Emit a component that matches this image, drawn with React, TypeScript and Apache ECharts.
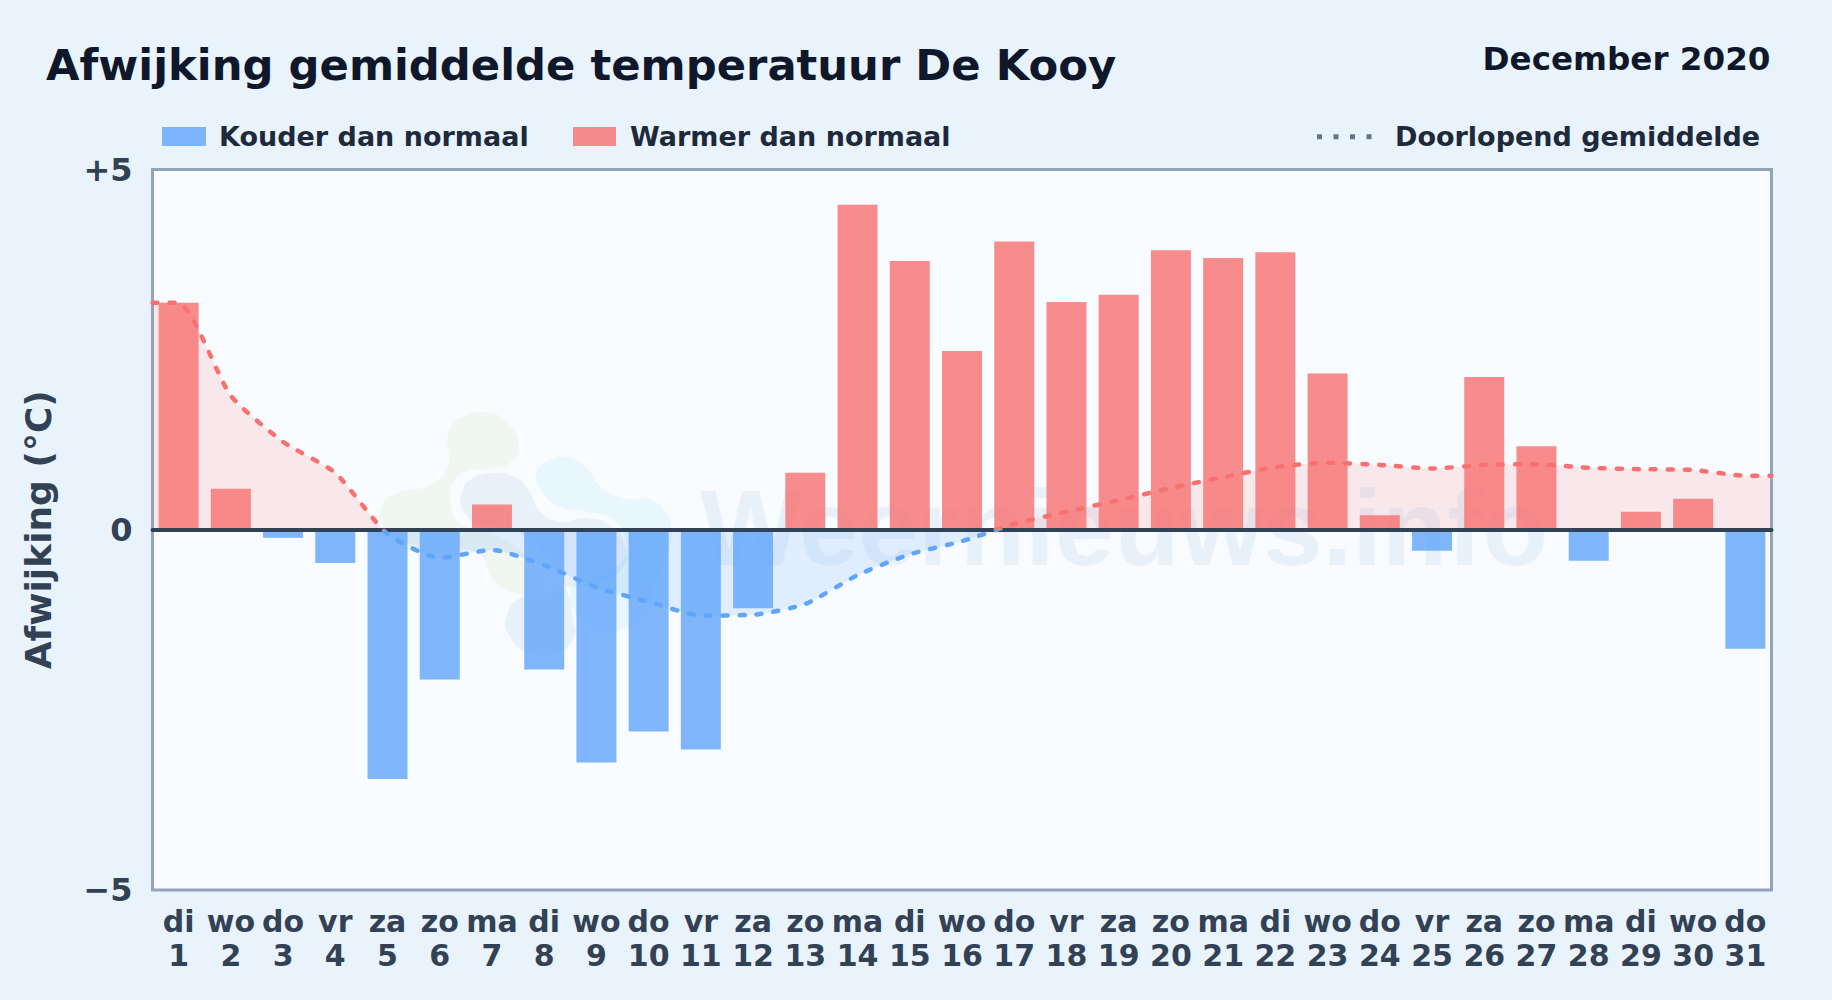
import React, { useEffect, useRef } from "react";
import * as echarts from "echarts";

const weekdays = ["di","wo","do","vr","za","zo","ma","di","wo","do","vr","za","zo","ma","di","wo","do","vr","za","zo","ma","di","wo","do","vr","za","zo","ma","di","wo","do"];
const days = ["1","2","3","4","5","6","7","8","9","10","11","12","13","14","15","16","17","18","19","20","21","22","23","24","25","26","27","28","29","30","31"];
const deviations = [3.15,0.57,-0.11,-0.46,-3.46,-2.08,0.35,-1.94,-3.23,-2.8,-3.05,-1.09,0.79,4.51,3.73,2.48,4.0,3.16,3.26,3.88,3.77,3.85,2.17,0.2,-0.29,2.12,1.16,-0.43,0.25,0.43,-1.65];
const runningMean = [3.15,1.86,1.22,0.79,-0.06,-0.39,-0.28,-0.49,-0.8,-1.0,-1.19,-1.18,-1.03,-0.63,-0.34,-0.16,0.08,0.25,0.41,0.58,0.73,0.87,0.93,0.9,0.85,0.9,0.91,0.86,0.84,0.83,0.75];
const yTicks: Record<string, string> = { "5": "+5", "0": "0", "-5": "\u22125" };

const FONT = "'DejaVu Sans'";
const BLUE = "#60a5fa";
const RED = "#f87171";
const BLUE_BAR = "rgba(96,165,250,0.8)";
const RED_BAR = "rgba(248,113,113,0.8)";
const ZERO_Y = 529.75 / 1000;

const blobGreen = [[310,80],[380,68],[440,95],[475,160],[460,210],[400,235],[330,240],[285,270],[270,330],[300,400],[400,430],[520,520],[560,600],[470,610],[400,570],[360,495],[250,470],[110,450],[70,410],[65,350],[110,310],[210,285],[265,225],[265,130]];
const blobSlate = [[305,310],[330,270],[400,250],[470,265],[510,310],[540,365],[600,395],[680,385],[755,410],[795,470],[790,530],[740,570],[680,590],[630,590],[560,610],[480,625],[440,680],[450,740],[510,790],[590,790],[640,745],[640,690],[620,600],[560,500],[480,430],[420,410],[350,400],[310,360]];
const blobBlue = [[530,250],[570,210],[630,205],[680,235],[720,290],[790,325],[870,330],[920,370],[935,430],[920,500],[880,580],[860,660],[800,710],[740,725],[670,700],[635,640],[640,580],[690,570],[780,520],[800,460],[760,390],[680,365],[600,350],[550,310]];

const blob = (pts: number[][], fill: string) => ({
  type: "polygon",
  z: 1,
  silent: true,
  shape: { points: pts.map(([x, y]) => [360 + x / 3, 390 + y / 3]), smooth: 0.5 },
  style: { fill },
});

const label = (text: string, x: number, y: number, size: number, fill: string, align = "left") => ({
  type: "text",
  z: 10,
  x,
  y,
  style: { text, fontFamily: FONT, fontWeight: "bold", fontSize: size, fill, textAlign: align, textVerticalAlign: "middle" },
});

export default function App() {
  const ref = useRef<HTMLDivElement>(null);
  useEffect(() => {
    document.body.style.margin = "0";
    const chart = echarts.init(ref.current!, undefined, { renderer: "svg" });
    const stops = (a: string, b: string) => ({
      type: "linear", x: 0, y: 0, x2: 0, y2: 1000, global: true,
      colorStops: [
        { offset: 0, color: a }, { offset: ZERO_Y, color: a },
        { offset: ZERO_Y, color: b }, { offset: 1, color: b },
      ],
    });
    const meanPoints = [
      [0.5, runningMean[0]],
      ...runningMean.map((v, i) => [i + 1, v]),
      [31.5, runningMean[30]],
    ];
    chart.setOption({
      animation: false,
      backgroundColor: "#e8f3fc",
      textStyle: { fontFamily: FONT },
      grid: {
        left: 152.5, right: 60.5, top: 169.5, bottom: 110,
        outerBoundsMode: "none",
        show: true, backgroundColor: "#f8fbff", borderColor: "#94a3b8", borderWidth: 3,
      },
      xAxis: [
        {
          type: "category",
          data: weekdays.map((w, i) => `${w}\n${days[i]}`),
          position: "bottom",
          axisLine: { show: false, onZero: false },
          axisTick: { show: false },
          axisLabel: { interval: 0, margin: 15, color: "#334155", fontFamily: FONT, fontWeight: "bold", fontSize: 30, lineHeight: 33.6 },
        },
        {
          type: "value",
          min: 0.5,
          max: 31.5,
          z: 5,
          axisLine: { show: true, onZero: true, lineStyle: { color: "#334155", width: 4 } },
          axisTick: { show: false },
          axisLabel: { show: false },
          splitLine: { show: false },
        },
      ],
      yAxis: {
        type: "value",
        min: -5,
        max: 5,
        interval: 5,
        name: "Afwijking (\u00b0C)",
        nameLocation: "middle",
        nameGap: 96,
        nameTextStyle: { color: "#334155", fontFamily: FONT, fontWeight: "bold", fontSize: 36 },
        axisLine: { show: false },
        axisTick: { show: false },
        splitLine: { show: false },
        axisLabel: {
          margin: 20, color: "#334155", fontFamily: FONT, fontWeight: "bold", fontSize: 32,
          formatter: (v: number) => yTicks[String(v)],
        },
      },
      series: [
        {
          type: "line",
          name: "Vlak",
          xAxisIndex: 1,
          z: 2,
          data: meanPoints,
          smooth: 0.2,
          showSymbol: false,
          silent: true,
          lineStyle: { width: 0, opacity: 0 },
          areaStyle: { color: stops("rgba(248,113,113,0.14)", "rgba(96,165,250,0.16)"), opacity: 1 },
        },
        {
          type: "bar",
          name: "Kouder dan normaal",
          z: 3,
          barWidth: 40,
          barGap: "-100%",
          data: deviations.map((v) => (v < 0 ? v : null)),
          itemStyle: { color: BLUE_BAR },
        },
        {
          type: "bar",
          name: "Warmer dan normaal",
          z: 3,
          barWidth: 40,
          barGap: "-100%",
          data: deviations.map((v) => (v >= 0 ? v : null)),
          itemStyle: { color: RED_BAR },
        },
        {
          type: "line",
          name: "Doorlopend gemiddelde",
          xAxisIndex: 1,
          z: 6,
          data: meanPoints,
          smooth: 0.2,
          showSymbol: false,
          lineStyle: { width: 4.5, type: [5, 12], cap: "round", color: stops(RED, BLUE) },
        },
      ],
      graphic: [
        {
          type: "text", z: 1, silent: true, x: 700, y: 528,
          style: { text: "Weernieuws.info", fontFamily: "'Liberation Sans'", fontWeight: "bold", fontSize: 107, fill: "rgba(30,110,180,0.07)", textVerticalAlign: "middle" },
        },
        blob(blobGreen, "rgba(163,200,90,0.09)"),
        blob(blobSlate, "rgba(30,100,170,0.07)"),
        blob(blobBlue, "rgba(56,189,248,0.08)"),
        label("Afwijking gemiddelde temperatuur De Kooy", 46, 65, 43.3, "#0f172a"),
        label("December 2020", 1770.5, 59, 32.6, "#0f172a", "right"),
        { type: "rect", z: 10, shape: { x: 162, y: 127, width: 44, height: 19 }, style: { fill: BLUE_BAR } },
        label("Kouder dan normaal", 219, 136.5, 27, "#1e293b"),
        { type: "rect", z: 10, shape: { x: 573, y: 127, width: 43, height: 19 }, style: { fill: RED_BAR } },
        label("Warmer dan normaal", 630, 136.5, 27, "#1e293b"),
        {
          type: "line", z: 10,
          shape: { x1: 1317, y1: 136.7, x2: 1374, y2: 136.7 },
          style: { stroke: "#64748b", lineWidth: 5, lineDash: [5, 11.5] },
        },
        label("Doorlopend gemiddelde", 1395, 136.5, 27, "#1e293b"),
      ],
    });
    return () => chart.dispose();
  }, []);
  return <div ref={ref} style={{ width: 1832, height: 1000 }} />;
}
